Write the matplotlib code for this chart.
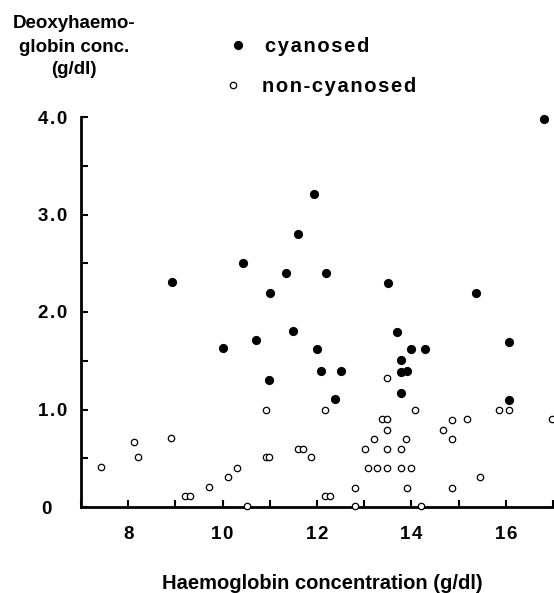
import matplotlib
matplotlib.use("Agg")
import matplotlib.pyplot as plt
from matplotlib.ticker import MultipleLocator

# Data (Hb concentration vs deoxyhaemoglobin, g/dl)
cyan_x = [8.92, 10.01, 10.43, 10.71, 11.01, 10.99, 11.34, 11.49, 11.60, 11.94,
          12.01, 12.08, 12.20, 12.39, 12.51, 13.50, 13.70, 13.79, 13.78, 13.78,
          13.90, 14.00, 14.29, 15.37, 16.06, 16.07, 16.80]
cyan_y = [2.31, 1.63, 2.50, 1.71, 2.20, 1.30, 2.40, 1.81, 2.80, 3.21,
          1.62, 1.40, 2.40, 1.11, 1.40, 2.30, 1.80, 1.51, 1.38, 1.17,
          1.40, 1.62, 1.62, 2.20, 1.69, 1.10, 3.98]

non_x = [7.42, 8.13, 8.20, 8.90, 9.20, 9.30, 9.71, 10.11, 10.31, 10.51,
         10.91, 10.91, 10.99, 11.60, 11.70, 11.88, 12.18, 12.18, 12.27, 12.80,
         12.80, 13.01, 13.09, 13.20, 13.28, 13.37, 13.48, 13.48, 13.48, 13.48,
         13.48, 13.78, 13.78, 13.89, 13.90, 13.99, 14.07, 14.20, 14.67, 14.87,
         14.87, 14.87, 15.18, 15.45, 15.86, 16.07, 16.97]
non_y = [0.41, 0.67, 0.51, 0.71, 0.11, 0.11, 0.21, 0.31, 0.40, 0.01,
         1.00, 0.51, 0.51, 0.60, 0.60, 0.51, 1.00, 0.11, 0.11, 0.20,
         0.01, 0.60, 0.40, 0.70, 0.40, 0.90, 0.90, 1.32, 0.79, 0.60,
         0.40, 0.59, 0.40, 0.70, 0.20, 0.40, 1.00, 0.01, 0.79, 0.89,
         0.70, 0.20, 0.90, 0.31, 1.00, 1.00, 0.90]

x_ticks = [8, 10, 12, 14, 16]
y_ticks = [0, 1.0, 2.0, 3.0, 4.0]
y_tick_labels = ["0", "1.0", "2.0", "3.0", "4.0"]

W, H = 554, 593
TS = "\u2009"  # thin space
HS = "\u200a"  # hair space, the original type is widely tracked
plt.rcParams['font.family'] = ['Liberation Sans', 'DejaVu Sans']
plt.rcParams['font.weight'] = 'bold'


def spaced(s):
    return HS.join(s)


fig = plt.figure(figsize=(W / 100, H / 100), dpi=100)
ax = fig.add_axes([81 / W, 86 / H, 472 / W, 390 / H])

ax.plot(non_x, non_y, 'o', ms=4.6, mfc='white', mec='black', mew=0.9,
        clip_on=False, zorder=3)
ax.plot(cyan_x, cyan_y, 'o', ms=5.6, color='black', clip_on=False, zorder=4)

ax.set_xlim(7, 17)
ax.set_ylim(0, 4)
for side in ['top', 'right']:
    ax.spines[side].set_visible(False)
for side in ['left', 'bottom']:
    ax.spines[side].set_linewidth(2.0)

ax.set_xticks(x_ticks)
ax.set_xticklabels([spaced(str(t)) for t in x_ticks])
ax.xaxis.set_minor_locator(MultipleLocator(1))
ax.set_yticks(y_ticks)
ylabs = [spaced(t) for t in y_tick_labels]
ylabs[0] = "0" + TS * 4
ax.set_yticklabels(ylabs)
ax.yaxis.set_minor_locator(MultipleLocator(0.5))
ax.tick_params(which='both', direction='in', length=5, width=1.5)
ax.tick_params(axis='x', which='major', pad=14, labelsize=13.5)
ax.tick_params(axis='y', which='major', pad=10, labelsize=13.5)

# axis titles
fig.text(322 / W, 1 - 589 / H, "Haemoglobin concentration (g/dl)",
         ha='center', va='baseline', fontsize=14.5)
for line, base in zip(["Deoxyhaemo-", "globin conc.", "(g/dl)"], [28, 52, 74]):
    fig.text(74 / W, 1 - base / H, line, ha='center', va='baseline',
             fontsize=13.5)

# legend drawn by hand as in the original
fig.lines.append(plt.Line2D([238 / W], [1 - 45 / H], marker='o', ms=5.6,
                            color='black', transform=fig.transFigure))
fig.lines.append(plt.Line2D([233 / W], [1 - 85 / H], marker='o', ms=4.6,
                            mfc='white', mec='black', mew=0.9,
                            transform=fig.transFigure))
fig.text(265 / W, 1 - 52 / H, spaced("cyanosed"), ha='left', va='baseline',
         fontsize=14.5)
fig.text(262 / W, 1 - 92 / H, spaced("non-cyanosed"), ha='left',
         va='baseline', fontsize=14.5)

fig.savefig("out.png", dpi=100)
